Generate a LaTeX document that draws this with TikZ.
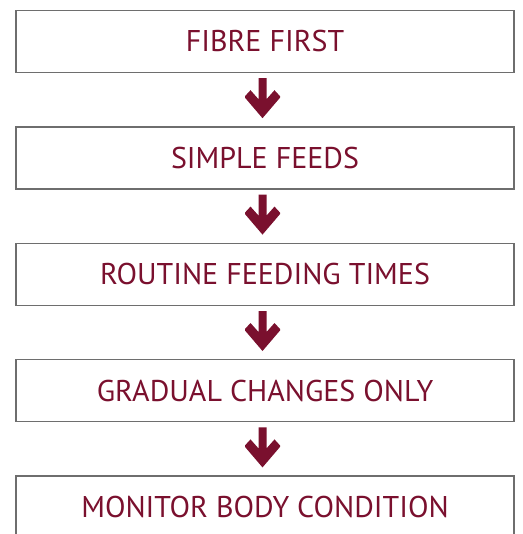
\documentclass[tikz,border=0pt]{standalone}
\usepackage{fontspec}
\setmainfont{PT Sans}
\definecolor{wine}{RGB}{122,16,46}
\definecolor{boxgray}{RGB}{110,110,110}
\tikzset{
  stepbox/.style={draw=boxgray, line width=1.5pt, rectangle, minimum width=498pt, minimum height=62pt,
    inner sep=0pt, text=wine, font=\fontsize{30}{32}\selectfont},
  chev/.pic={
    \fill[wine] (-4,-21.5) -- (4,-21.5) -- (4,-0.5) -- (12,-9.5) -- (17.5,-3.5) -- (17.5,-2) -- (0,18.5)
      -- (-17.5,-2) -- (-17.5,-3.5) -- (-12,-9.5) -- (-4,-0.5) -- cycle;
  }
}
\begin{document}
\begin{tikzpicture}[x=1pt,y=-1pt]
\useasboundingbox (0,0) rectangle (522,534);
\clip (0,0) rectangle (522,534);
\fill[white] (0,0) rectangle (522,534);
\node[stepbox] (b1) at (265,41.5) {FIBRE FIRST};
\node[stepbox] (b2) at (265,157.9) {SIMPLE FEEDS};
\node[stepbox] (b3) at (265,274.3) {ROUTINE FEEDING TIMES};
\node[stepbox] (b4) at (265,390.7) {GRADUAL CHANGES ONLY};
\node[stepbox] (b5) at (265,507.1) {MONITOR BODY CONDITION};
\foreach \a/\b in {b1/b2,b2/b3,b3/b4,b4/b5}{
  \path (\a.south) -- (\b.north) coordinate[pos=0.5] (m\a);
  \pic[xshift=-2.5pt] at (m\a) {chev};
}
\end{tikzpicture}
\end{document}
